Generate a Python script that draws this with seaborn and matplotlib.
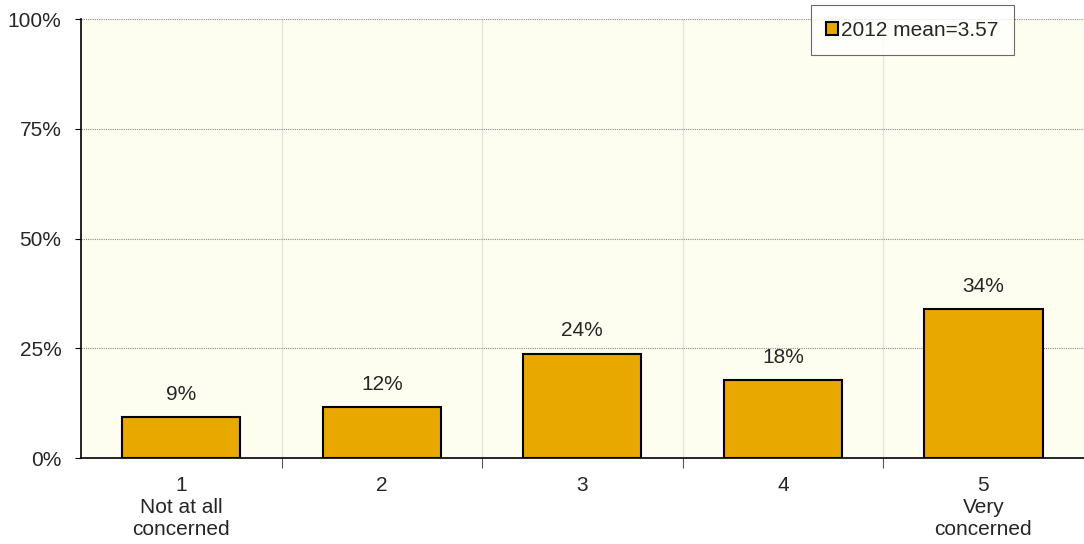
import pandas as pd
import seaborn as sns
import matplotlib.pyplot as plt

categories = ['1\nNot at all\nconcerned', '2', '3', '4', '5\nVery\nconcerned']
values = [9.4, 11.7, 23.8, 17.8, 33.9]
labels = ['9%', '12%', '24%', '18%', '34%']
series = '2012 mean=3.57'

df = pd.DataFrame({'cat': categories, 'pct': values})

sns.set_style('white')
plt.rcParams['font.family'] = ['Liberation Sans', 'DejaVu Sans']

fig = plt.figure(figsize=(10.84, 5.44), dpi=100)
ax = fig.add_axes([0.0747, 0.158, 0.925, 0.807])
ax.set_facecolor('#FEFEF0')

sns.barplot(data=df, x='cat', y='pct', color='#E8A800', width=0.59,
            edgecolor='black', linewidth=1.5, saturation=1, ax=ax,
            label=series, zorder=3)

# value labels above bars
for i, (v, t) in enumerate(zip(values, labels)):
    ax.text(i, v + 3, t, ha='center', va='bottom', fontsize=15)

ax.set_ylim(0, 100)
ax.set_xlim(-0.5, 4.5)
ax.set_yticks([0, 25, 50, 75, 100])
ax.set_yticklabels(['0%', '25%', '50%', '75%', '100%'], fontsize=15)
ax.tick_params(axis='y', length=4, width=0.8, color='black', pad=10, left=True)
ax.tick_params(axis='x', which='major', length=0, labelsize=15, pad=13)
ax.set_xticks([0.5, 1.5, 2.5, 3.5], minor=True)
ax.tick_params(axis='x', which='minor', length=7, width=0.8, color='#555555', bottom=True)
ax.set_xlabel('')
ax.set_ylabel('')

ax.grid(axis='y', color='#888888', linestyle=(0, (1, 1)), linewidth=0.8, zorder=1)
ax.grid(axis='x', which='minor', color='#E4E4DA', linewidth=1, zorder=1)
ax.set_axisbelow(True)

for s in ['top', 'right']:
    ax.spines[s].set_visible(False)
ax.spines['left'].set_color('black')
ax.spines['bottom'].set_color('black')
ax.spines['left'].set_linewidth(1.2)
ax.spines['bottom'].set_linewidth(1.2)

leg = ax.legend(loc='upper right', bbox_to_anchor=(0.9305, 1.032), fontsize=15,
                frameon=True, fancybox=False, edgecolor='#444444',
                handlelength=0.55, handleheight=0.55, handletextpad=0.15,
                borderpad=0.75, borderaxespad=0)
leg.get_frame().set_linewidth(0.8)
leg.set_zorder(5)

fig.savefig('out.png', dpi=100)
